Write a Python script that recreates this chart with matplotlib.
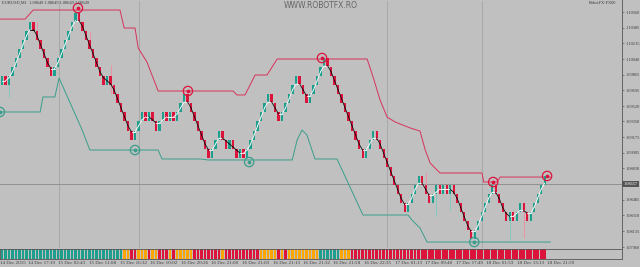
import matplotlib
matplotlib.use("Agg")
import matplotlib.pyplot as plt
from matplotlib.transforms import blended_transform_factory
import numpy as np

# ---------------- data ----------------
start_price = 1.0975
brick_size = 0.0010
brick_dirs = ("UD" "UUUUUUU" "DDDDDD" "UUUUUUU" "DDDDDDDD" "U" "DDDDDDD" "UUU"
              "DUDDUUDUDUUU" "DDDDDDD" "UUU" "DDUDDUD" "UUUUUUU" "DDD" "UUUUU" "DDD"
              "UUUUU" "DDDDDDDDDDD" "UUU" "DDDDDDDDD" "UUUU" "DDDUUDUDU" "DDDDDD"
              "UUUUUU" "DDDD" "UDUUDD" "UUUUU")

# wicks: brick index, high, low
wick_idx = [2, 10, 25, 31, 121, 124, 128, 145, 149]
wick_hi = [1.0985, 1.1045, 1.1034, 1.0998, 1.0878, 1.0865, 1.0865, 1.0835, 1.0835]
wick_lo = [1.0962, 1.1025, 1.1015, 1.0965, 1.0855, 1.0830, 1.0837, 1.0804, 1.0807]

strip_runs = [("T", 35), ("O", 2), ("R", 2), ("O", 3), ("R", 1), ("O", 2), ("R", 3),
              ("O", 1), ("R", 1), ("O", 5), ("R", 8), ("O", 1), ("R", 10), ("O", 5),
              ("R", 1), ("O", 1), ("R", 1), ("O", 9), ("T", 6), ("O", 3), ("R", 56)]

red_x = [-0.6, 6.6, 8.9, 33.7, 34.9, 38.0, 38.9, 41.4, 44.6, 66.0, 67.1, 69.4, 72.3, 75.7,
         78.6, 104.3, 106.0, 108.0, 110.0, 112.3, 116.6, 119.4, 120.9, 122.3, 123.7, 125.1,
         137.1, 137.6, 141.4, 142.3, 156.6]
red_y = [1.10483, 1.10483, 1.10583, 1.10583, 1.10384, 1.10384, 1.10163, 1.10008, 1.09687,
         1.09687, 1.09643, 1.09643, 1.09864, 1.09864, 1.10041, 1.10041, 1.09842, 1.09587,
         1.09399, 1.09344, 1.09278, 1.09244, 1.09034, 1.08890, 1.08835, 1.08780, 1.08780,
         1.08680, 1.08680, 1.08735, 1.08735]

teal_x = [-0.6, 10.9, 11.7, 15.1, 16.3, 22.9, 25.1, 44.6, 45.7, 56.6, 58.9, 82.9, 84.3, 85.7,
          87.1, 89.4, 95.7, 103.1, 116.0, 117.1, 119.4, 121.4, 156.6]
teal_y = [1.09455, 1.09455, 1.09621, 1.09621, 1.09831, 1.09255, 1.09034, 1.09034, 1.08935,
          1.08935, 1.08924, 1.08924, 1.09145, 1.09255, 1.09200, 1.08935, 1.08935, 1.08315,
          1.08315, 1.08260, 1.08171, 1.08016, 1.08016]

top_circle_x = [21.7, 53.1, 91.4, 140.3, 155.7]
top_circle_y = [1.10605, 1.09687, 1.10052, 1.08680, 1.08747]
bot_circle_x = [-0.6, 38.0, 70.6, 134.9]
bot_circle_y = [1.09455, 1.09034, 1.08901, 1.08016]

separator_x = [16.3, 39.1, 110.0, 137.1]

price_ticks = [1.10560, 1.10385, 1.10215, 1.10040, 1.09865, 1.09695, 1.09520, 1.09350,
               1.09175, 1.09005, 1.08830, 1.08485, 1.08310, 1.08135, 1.07960]
price_labels = ["1.10560", "1.10385", "1.10215", "1.10040", "1.09865", "1.09695", "1.09520",
                "1.09350", "1.09175", "1.09005", "1.08830", "1.08485", "1.08310", "1.08135",
                "1.07960"]
current_price = 1.08657
current_label = "1.08657"

time_label_x = [-0.45, 7.4, 16.1, 24.9, 33.7, 42.3, 51.1, 59.7, 68.6, 77.4, 86.0, 94.6, 103.4,
                112.3, 120.9, 129.7, 138.3, 147.1, 155.7]
time_labels = ["14 Dec 2015", "14 Dec 17:19", "15 Dec 02:43", "15 Dec 11:08", "15 Dec 16:32",
               "16 Dec 10:02", "16 Dec 20:26", "16 Dec 21:00", "16 Dec 21:03", "16 Dec 21:13",
               "16 Dec 21:32", "16 Dec 21:58", "16 Dec 22:35", "17 Dec 01:13", "17 Dec 09:40",
               "17 Dec 17:49", "18 Dec 01:53", "18 Dec 13:13", "18 Dec 21:59"]

# ---------------- style ----------------
BG = "#C0C0C0"
UP = "#1E9E8C"
DN = "#DC143C"
UP_WICK = "#80CABE"
DN_WICK = "#F08CA0"
ORANGE = "#FFA500"
RES = "#D8325A"
SUP = "#3A9E8C"
TXT = "#3A3A3A"
FONT = "Liberation Serif"

W, H = 640, 267
fig = plt.figure(figsize=(W / 100, H / 100), dpi=100, facecolor=BG)
ax = fig.add_axes([0, 19 / H, 622 / W, 248 / H])
ax.set_facecolor(BG)
axs = fig.add_axes([0, 8 / H, 622 / W, 10 / H])
axs.set_facecolor(BG)

n = len(brick_dirs)
idx = np.arange(n)
steps = np.array([1 if d == "U" else -1 for d in brick_dirs])
closes = start_price + brick_size * np.cumsum(steps)
opens = closes - brick_size * steps
is_up = steps > 0

x_left, x_right = -0.571, 177.1
ax.set_xlim(x_left, x_right)
ax.set_ylim(1.07950, 1.10694)

# separators
for sx in separator_x:
    ax.axvline(sx, color="#888888", lw=0.6, ls=(0, (1.2, 1.2)), zorder=1)
    axs.axvline(sx, color="#888888", lw=0.6, ls=(0, (1.2, 1.2)), zorder=1)

# current price line
ax.axhline(current_price, color="#8A8A8A", lw=0.6, zorder=1)

# support / resistance
ax.plot(red_x, red_y, color=RES, lw=0.7, zorder=2)
ax.plot(teal_x, teal_y, color=SUP, lw=0.7, zorder=2)

# wicks
for wi, hi, lo in zip(wick_idx, wick_hi, wick_lo):
    ax.plot([wi, wi], [lo, hi], color=UP_WICK if is_up[wi] else DN_WICK, lw=0.6, zorder=2.5)

# bricks
bottoms = np.minimum(opens, closes)
ax.bar(idx[is_up], brick_size, bottom=bottoms[is_up], width=0.62, color=UP, lw=0, zorder=3)
ax.bar(idx[~is_up], brick_size, bottom=bottoms[~is_up], width=0.62, color=DN, lw=0, zorder=3)

# smoothed line white (rising) / black (falling)
mids = (opens + closes) / 2
sm = np.convolve(np.r_[mids[0], mids, mids[-1]], np.ones(3) / 3, mode="valid")
for i in range(n - 1):
    c = "white" if sm[i + 1] >= sm[i] else "#111111"
    ax.plot([i, i + 1], [sm[i], sm[i + 1]], color=c, lw=0.6, zorder=4)

# circles
ax.scatter(top_circle_x, top_circle_y, s=45, facecolors="none", edgecolors=DN, lw=0.9, zorder=5)
ax.scatter(top_circle_x, top_circle_y, s=3, color=DN, zorder=5)
ax.scatter(bot_circle_x, bot_circle_y, s=45, facecolors="none", edgecolors=SUP, lw=0.9, zorder=5)
ax.scatter(bot_circle_x, bot_circle_y, s=3, color=SUP, zorder=5)

# axes styling
for s in ["top", "left", "bottom"]:
    ax.spines[s].set_visible(False)
ax.spines["right"].set_color("#555555")
ax.spines["right"].set_linewidth(0.6)
ax.set_xticks([])
ax.yaxis.tick_right()
ax.set_yticks(price_ticks)
ax.set_yticklabels(price_labels, fontsize=3.2, family=FONT, color=TXT)
ax.tick_params(axis="y", length=1.5, width=0.5, pad=0.8, colors="#555555")
for t in ax.get_yticklabels():
    t.set_color(TXT)

# current price box
ax.text(1.002, current_price, current_label,
        transform=blended_transform_factory(ax.transAxes, ax.transData),
        ha="left", va="center", fontsize=3.2, family=FONT, color="white",
        bbox=dict(boxstyle="square,pad=0.25", fc="#555555", ec="none"), clip_on=False, zorder=6)

# strip
colmap = {"T": UP, "O": ORANGE, "R": DN}
pos = 0
for code, cnt in strip_runs:
    xs = np.arange(pos, pos + cnt)
    axs.bar(xs, 1, bottom=0, width=0.8, color=colmap[code], lw=0, zorder=2)
    pos += cnt
axs.set_xlim(x_left, x_right)
axs.set_ylim(0, 1)
axs.set_xticks([])
axs.set_yticks([])
for s in axs.spines.values():
    s.set_color("#555555")
    s.set_linewidth(0.6)

trans = blended_transform_factory(axs.transData, fig.transFigure)
for tx, tl in zip(time_label_x, time_labels):
    axs.text(tx, 1.5 / H, tl, transform=trans, ha="left", va="bottom", fontsize=3.6,
             family=FONT, color=TXT, clip_on=False)

# titles / watermark
fig.text(321 / W, 1 - 6 / H, "WWW.ROBOTFX.RO", ha="center", va="center", fontsize=5.5,
         color="#666666", family="DejaVu Sans")
fig.text(2 / W, 1 - 2.5 / H, "EURUSD,M1  1.08649 1.08649 1.08649 1.08649", ha="left",
         va="center", fontsize=3.2, family=FONT, color=TXT)
fig.text(616 / W, 1 - 2.5 / H, "RobotFX-FX00", ha="right", va="center", fontsize=3.2,
         family=FONT, color=TXT)

fig.savefig("out.png", dpi=100, facecolor=BG)
